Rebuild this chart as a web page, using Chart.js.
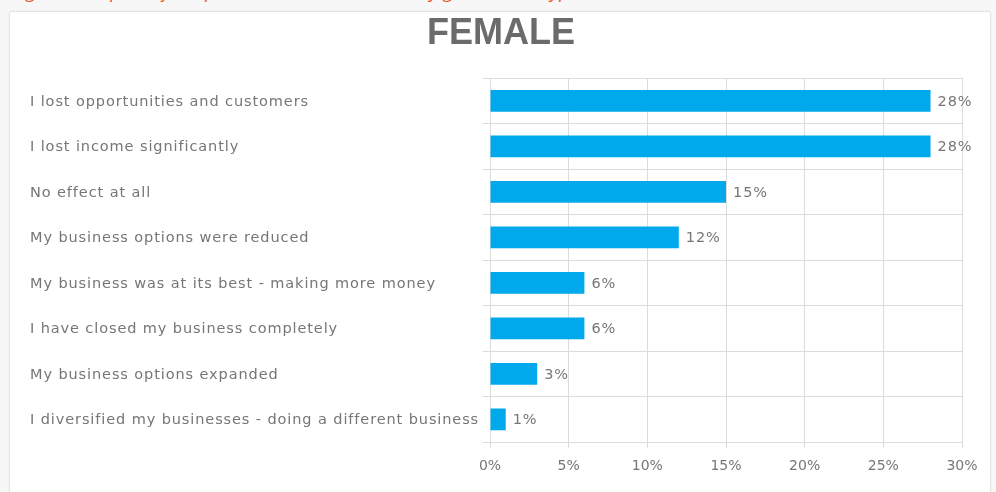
<html>
<head>
	<script src="https://cdn.jsdelivr.net/npm/chart.js@4/dist/chart.umd.min.js"></script>
	<style>
		body { margin: 0; background: #f7f7f7; overflow: hidden; }
		#caption {
			position: absolute; left: 12px; top: -22px; margin: 0;
			font: italic 19px "Open Sans", sans-serif; color: #f0562a; white-space: nowrap;
		}
		#panel {
			position: absolute; left: 9px; top: 11px; width: 980px; height: 500px;
			background: #fff; border: 1px solid #e4e4e4; border-radius: 2px;
			box-shadow: 0 0 3px rgba(0, 0, 0, 0.05);
		}
		#wrap { position: absolute; left: 0; top: 0; width: 996px; height: 492px; }
	</style>
</head>
<body>
	<p id="caption">Figure 6: Impact of the pandemic on businesses, by gender and type</p>
	<div id="panel"></div>
	<div id="wrap">
		<canvas id="myChart"></canvas>
	</div>
</body>
<script>

// answers, top to bottom
const categories = [
  'I lost opportunities and customers',
  'I lost income significantly',
  'No effect at all',
  'My business options were reduced',
  'My business was at its best - making more money',
  'I have closed my business completely',
  'My business options expanded',
  'I diversified my businesses - doing a different business'
];
// share of female respondents, %
const femaleShare = [28, 28, 15, 12, 6, 6, 3, 1];
const axisMax = 30;
const axisStep = 5;

const gridColor = '#dcdcdc';
const textColor = '#767676';
const labelFont = { family: 'DejaVu Sans', size: 14 };
const looseFont = '14.5px "DejaVu Sans"';

// category names (left aligned, set a little loose) and the "28%" values
// after each bar are drawn here instead of by the scale
const rowText = {
  id: 'rowText',
  afterDatasetsDraw(chart) {
    const ctx = chart.ctx;
    const yScale = chart.scales.y;
    const meta = chart.getDatasetMeta(0);
    ctx.save();
    ctx.font = looseFont;
    ctx.fillStyle = textColor;
    ctx.textBaseline = 'middle';
    ctx.letterSpacing = '0.9px';
    yScale.ticks.forEach((t, i) => {
      ctx.fillText(yScale.getLabelForValue(t.value), chart.chartArea.left - 460, yScale.getPixelForTick(i) + 1);
    });
    meta.data.forEach((bar, i) => {
      ctx.fillText(femaleShare[i] + '%', bar.x + 7, bar.y + 1);
    });
    // restore() doesn't always reset this one
    ctx.letterSpacing = '0px';
    ctx.restore();
  }
};

const data = {
  labels: categories,
  datasets: [
    {
      label: 'Female',
      data: femaleShare,
      backgroundColor: '#00a9ec',
      barPercentage: 0.8,
      categoryPercentage: 0.6
    }
  ]
};

const config = {
  type: 'bar',
  data: data,
  plugins: [rowText],
  options: {
    indexAxis: 'y',
    maintainAspectRatio: false,
    responsive: true,
    animation: false,
    layout: { padding: { left: 30, right: 34, top: 10, bottom: 7 } },
    plugins: {
      legend: { display: false },
      tooltip: { enabled: false },
      title: {
        display: true,
        text: ' FEMALE',
        color: '#6b6b6b',
        font: { family: 'Liberation Sans', size: 36, weight: 'bold' },
        padding: { top: 2, bottom: 23 }
      }
    },
    scales: {
      x: {
        min: 0,
        max: axisMax,
        ticks: {
          stepSize: axisStep,
          color: textColor,
          font: labelFont,
          padding: 10,
          callback: (v) => v + '%'
        },
        grid: { color: gridColor, tickLength: 6 },
        border: { display: false }
      },
      y: {
        afterFit: (scale) => { scale.width = 460; },
        ticks: { display: false },
        grid: { color: gridColor, tickLength: 7 },
        border: { color: gridColor }
      }
    }
  },
};
var ctx = document.getElementById('myChart');
var myChart = new Chart(ctx, config);

</script>
</html>
